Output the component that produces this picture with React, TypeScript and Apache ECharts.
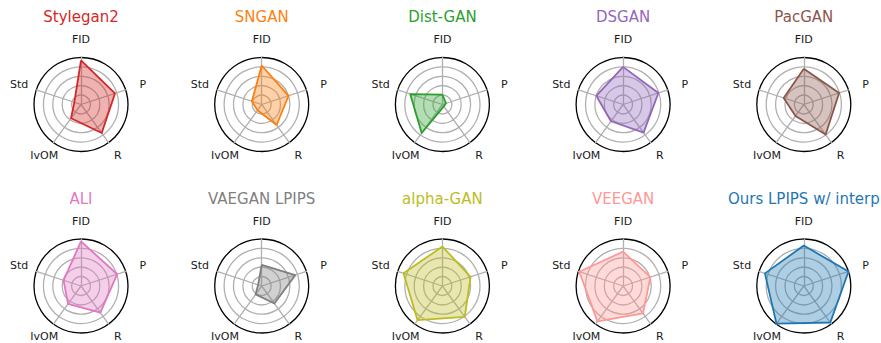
import React, { useEffect, useRef } from "react";
import * as echarts from "echarts";

// Metric axes, listed clockwise from the top.
const metrics = ["FID", "P", "R", "IvOM", "Std"];

// Model names, one radar each (row-major, 5 per row).
const models = [
  "Stylegan2",
  "SNGAN",
  "Dist-GAN",
  "DSGAN",
  "PacGAN",
  "ALI",
  "VAEGAN LPIPS",
  "alpha-GAN",
  "VEEGAN",
  "Ours LPIPS w/ interp",
];

// Normalised scores per model, in the order FID, P, R, IvOM, Std.
const stylegan2 = [0.94, 0.76, 0.75, 0.36, 0.15];
const sngan = [0.83, 0.6, 0.54, 0.15, 0.22];
const distgan = [0.21, 0.08, 0.05, 0.75, 0.72];
const dsgan = [0.8, 0.79, 0.74, 0.44, 0.6];
const pacgan = [0.76, 0.79, 0.79, 0.3, 0.45];
const ali = [0.95, 0.81, 0.7, 0.47, 0.39];
const vaeganLpips = [0.45, 0.75, 0.46, 0.22, 0.08];
const alphagan = [0.84, 0.63, 0.81, 0.9, 0.87];
const veegan = [0.73, 0.61, 0.72, 0.93, 0.98];
const oursLpips = [0.86, 1.0, 0.96, 0.99, 0.87];

const scores = [
  stylegan2,
  sngan,
  distgan,
  dsgan,
  pacgan,
  ali,
  vaeganLpips,
  alphagan,
  veegan,
  oursLpips,
];

const colors = [
  "#d62728",
  "#ff7f0e",
  "#2ca02c",
  "#9467bd",
  "#8c564b",
  "#e377c2",
  "#7f7f7f",
  "#bcbd22",
  "#ff9896",
  "#1f77b4",
];

const W = 881;
const H = 343;
const FONT = "DejaVu Sans, Liberation Sans, sans-serif";

// Angle (degrees, counter-clockwise from +x) of each metric axis.
const metricAngle: Record<string, number> = {
  FID: 90,
  P: 18,
  R: -54,
  IvOM: -126,
  Std: 162,
};

// Distance of each axis label from the radar centre, in px.
const labelDist: Record<string, number> = {
  FID: 65,
  P: 65,
  R: 62.5,
  IvOM: 62.5,
  Std: 65,
};

// ECharts lays indicators out counter-clockwise, so reorder them.
const ecOrder = ["FID", "Std", "IvOM", "R", "P"];

export default function App() {
  const ref = useRef<HTMLDivElement>(null);

  useEffect(() => {
    if (!ref.current) return;
    const chart = echarts.init(ref.current, undefined, {
      renderer: "svg",
      width: W,
      height: H,
    });

    const colX0 = 81;
    const colStep = 180.7;
    const rowY = [104.5, 286];
    const radius = 47;
    const titleOffset = 87.2;

    const radars: any[] = [];
    const series: any[] = [];
    const graphics: any[] = [];

    models.forEach((name, i) => {
      const cx = colX0 + (i % 5) * colStep;
      const cy = rowY[Math.floor(i / 5)];
      const color = colors[i];
      const vals = scores[i];

      radars.push({
        center: [cx, cy],
        radius,
        startAngle: 90,
        shape: "circle",
        splitNumber: 5,
        indicator: ecOrder.map((m) => ({ name: m, min: 0, max: 1 })),
        axisName: { show: false },
        splitArea: { show: false },
        axisTick: { show: false },
        axisLabel: { show: false },
        axisLine: { lineStyle: { color: "#b0b0b0", width: 1.3 } },
        splitLine: {
          lineStyle: {
            color: ["#b0b0b0", "#b0b0b0", "#b0b0b0", "#b0b0b0", "#b0b0b0", "#000000"],
            width: 1.3,
          },
        },
      });

      series.push({
        type: "radar",
        radarIndex: i,
        symbol: "none",
        silent: true,
        data: [
          {
            name,
            value: ecOrder.map((m) => vals[metrics.indexOf(m)]),
            lineStyle: { color, width: 1.8 },
            areaStyle: { color, opacity: 0.36 },
          },
        ],
      });

      graphics.push({
        type: "text",
        x: cx,
        y: cy - titleOffset,
        style: {
          text: name,
          fill: color,
          font: `15px ${FONT}`,
          textAlign: "center",
          textVerticalAlign: "middle",
        },
      });

      metrics.forEach((m) => {
        const a = (metricAngle[m] * Math.PI) / 180;
        const d = labelDist[m];
        graphics.push({
          type: "text",
          x: cx + d * Math.cos(a),
          y: cy - d * Math.sin(a),
          style: {
            text: m,
            fill: "#1a1a1a",
            font: `11px ${FONT}`,
            textAlign: "center",
            textVerticalAlign: "middle",
          },
        });
      });
    });

    chart.setOption({
      animation: false,
      backgroundColor: "#ffffff",
      radar: radars,
      series,
      graphic: graphics,
    });

    return () => chart.dispose();
  }, []);

  return (
    <div
      ref={ref}
      style={{ position: "fixed", left: 0, top: 0, width: W, height: H }}
    />
  );
}
